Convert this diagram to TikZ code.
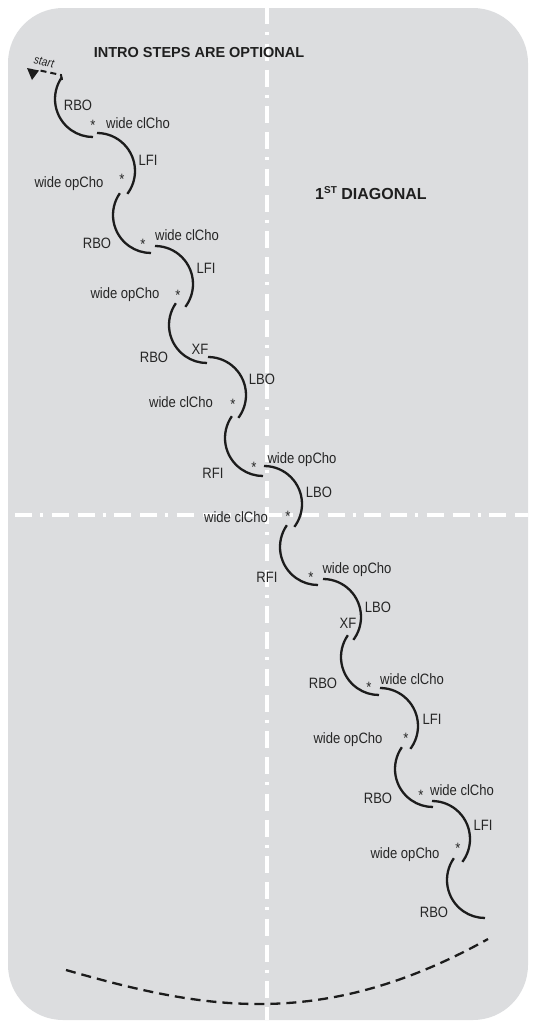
\documentclass[tikz,border=0pt]{standalone}
\usepackage{fontspec}
\newfontfamily\lblfont[FakeStretch=0.87]{Liberation Sans}
\newfontfamily\hdfont{Liberation Sans}
\usetikzlibrary{calc}
\definecolor{boxgray}{RGB}{220,221,223}
\definecolor{ink}{RGB}{28,28,28}
\definecolor{txt}{RGB}{38,38,38}
\newcommand\Larc[2]{\draw[curve] (#1,#2) ++(215:38) arc[start angle=215,end angle=90,radius=38];}
\newcommand\Rarc[2]{\draw[curve] (#1,#2) ++(-90:38) arc[start angle=-90,end angle=37,radius=38];}
\begin{document}
\begin{tikzpicture}[x=1pt,y=-1pt,
  curve/.style={draw=ink,line width=2.3pt},
  guide/.style={draw=white,line width=4.5pt,dash pattern=on 17pt off 9pt on 17pt off 8pt on 3pt off 8.5pt},
  lbl/.style={font=\lblfont\fontsize{15}{17}\selectfont,text=txt,inner sep=0pt,anchor=base},
  title/.style={font=\hdfont\bfseries\fontsize{14.5}{16}\selectfont,text=black!88,inner sep=0pt,anchor=base}]
\useasboundingbox (0,0) rectangle (536,1028);
\fill[boxgray,rounded corners=55pt] (8,8) rectangle (528,1020);
% guide lines
\draw[guide,dash phase=27pt] (267,8) -- (267,1020);
\draw[guide,dash phase=19pt] (8,515) -- (528,515);
% titles
\node[title] (intro) at (199,57.5) {INTRO STEPS ARE OPTIONAL};
\node[title,anchor=base west,font=\hdfont\bfseries\fontsize{16}{18}\selectfont] (diag) at (315,199) {1\raisebox{6pt}{\fontsize{10}{10}\selectfont ST} DIAGONAL};
% start
\draw[curve,line width=2pt,dash pattern=on 6pt off 4pt] (62,80) -- (61,75) -- (40,70.5);
\fill[ink] (27,68) -- (39,70.5) -- (32,80) -- cycle;
\node[lbl,anchor=center,font=\lblfont\itshape\fontsize{12}{12}\selectfont,rotate=-12] (start) at (44,62) {start};
% arcs
\Larc{93}{99}
\Rarc{97}{171}
\Larc{151}{215}
\Rarc{155}{284}
\Larc{207}{325}
\Rarc{208}{395}
\Larc{263}{438}
\Rarc{264}{504}
\Larc{318}{547}
\Rarc{323}{617}
\Larc{379}{657}
\Rarc{380}{726}
\Larc{433}{769}
\Rarc{432}{839}
\Larc{485}{880}
% bottom dashed arc
\draw[curve,dash pattern=on 10pt off 6pt] (66,970) .. controls (196,1007) and (318,1034) .. (488,939);
% labels
\node[lbl] (l1) at (78,110) {RBO};
\node[lbl] (l2) at (93,130) {*};
\node[lbl] (l3) at (138,128) {wide clCho};
\node[lbl] (l4) at (148,165) {LFI};
\node[lbl] (l5) at (69,187) {wide opCho};
\node[lbl] (l6) at (122,184) {*};
\node[lbl] (l7) at (97,248) {RBO};
\node[lbl] (l8) at (143,249) {*};
\node[lbl] (l9) at (187,240) {wide clCho};
\node[lbl] (l10) at (206,273) {LFI};
\node[lbl] (l11) at (125,298) {wide opCho};
\node[lbl] (l12) at (178,300) {*};
\node[lbl] (l13) at (154,362) {RBO};
\node[lbl] (l14) at (200,354) {XF};
\node[lbl] (l15) at (262,384) {LBO};
\node[lbl] (l16) at (181,407) {wide clCho};
\node[lbl] (l17) at (233,409) {*};
\node[lbl] (l18) at (213,478) {RFI};
\node[lbl] (l19) at (254,472) {*};
\node[lbl] (l20) at (302,463) {wide opCho};
\node[lbl] (l21) at (319,497) {LBO};
\node[lbl] (l22) at (236,522) {wide clCho};
\node[lbl] (l23) at (288,521) {*};
\node[lbl] (l24) at (267,582) {RFI};
\node[lbl] (l25) at (311,582) {*};
\node[lbl] (l26) at (357,573) {wide opCho};
\node[lbl] (l27) at (378,612) {LBO};
\node[lbl] (l28) at (348,628) {XF};
\node[lbl] (l29) at (323,688) {RBO};
\node[lbl] (l30) at (369,692) {*};
\node[lbl] (l31) at (412,684) {wide clCho};
\node[lbl] (l32) at (432,724) {LFI};
\node[lbl] (l33) at (348,743) {wide opCho};
\node[lbl] (l34) at (406,743) {*};
\node[lbl] (l35) at (378,803) {RBO};
\node[lbl] (l36) at (421,800) {*};
\node[lbl] (l37) at (462,795) {wide clCho};
\node[lbl] (l38) at (483,830) {LFI};
\node[lbl] (l39) at (405,858) {wide opCho};
\node[lbl] (l40) at (458,853) {*};
\node[lbl] (l41) at (434,917) {RBO};
\end{tikzpicture}
\end{document}
